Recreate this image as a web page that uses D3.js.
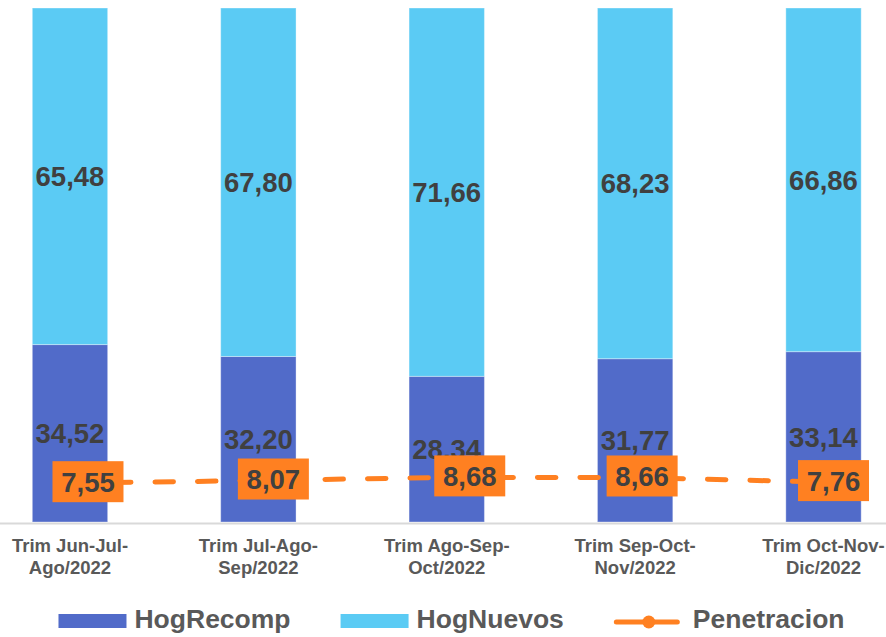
<!DOCTYPE html>
<html>
<head>
<meta charset="utf-8">
<script src="https://cdn.jsdelivr.net/npm/d3@7"></script>
<style>
  html, body { margin: 0; padding: 0; background: #fff; }
  svg { display: block; font-family: 'Liberation Sans', Arial, sans-serif; }
</style>
</head>
<body>
<svg class="chart"></svg>
<script>
const categories = [
  'Trim Jun-Jul-Ago/2022',
  'Trim Jul-Ago-Sep/2022',
  'Trim Ago-Sep-Oct/2022',
  'Trim Sep-Oct-Nov/2022',
  'Trim Oct-Nov-Dic/2022'
];
const hogRecomp = [34.52, 32.20, 28.34, 31.77, 33.14];
const hogNuevos = [65.48, 67.80, 71.66, 68.23, 66.86];
const penetracion = [7.55, 8.07, 8.68, 8.66, 7.76];
// labels of the line were nudged by hand in the original
const penLabelShift = [18, 15, 23, 7, 10];

const seriesNames = ['HogRecomp', 'HogNuevos', 'Penetracion'];

const width = 886;
const height = 637;
const colors = { HogRecomp: '#516BC9', HogNuevos: '#5BCBF4', Penetracion: '#FF8021' };
const fmt = v => d3.format('.2f')(v).replace('.', ',');

const svg = d3.select('.chart')
  .attr('width', width)
  .attr('height', height);

const rows = categories.map((c, i) => ({
  cat: c, HogRecomp: hogRecomp[i], HogNuevos: hogNuevos[i], pen: penetracion[i], shift: penLabelShift[i]
}));

const x = d3.scaleBand()
  .domain(categories)
  .range([-24.2, 917.7])
  .paddingInner(0.6)
  .paddingOuter(0.3);

const y = d3.scaleLinear().domain([0, 100]).range([522, 8]);
const y2 = d3.scaleLinear().domain([0, 100]).range([522, 8]);

const stack = d3.stack().keys(['HogRecomp', 'HogNuevos'])(rows);

const layers = svg.append('g')
  .selectAll('g')
  .data(stack)
  .enter()
  .append('g')
  .attr('fill', d => colors[d.key]);

layers.selectAll('rect')
  .data(d => d)
  .enter()
  .append('rect')
  .attr('x', d => x(d.data.cat))
  .attr('width', x.bandwidth())
  .attr('y', d => y(d[1]))
  .attr('height', d => y(d[0]) - y(d[1]))
  .attr('stroke', '#ffffff')
  .attr('stroke-opacity', 0.35)
  .attr('stroke-width', 1);

layers.selectAll('text')
  .data(d => d.map(p => ({ p, key: d.key })))
  .enter()
  .append('text')
  .attr('x', d => x(d.p.data.cat) + x.bandwidth() / 2)
  .attr('y', d => (y(d.p[0]) + y(d.p[1])) / 2)
  .attr('dy', '0.36em')
  .attr('text-anchor', 'middle')
  .attr('font-size', '27.5px')
  .attr('font-weight', 'bold')
  .attr('fill', '#404040')
  .text(d => fmt(d.p.data[d.key]));

// category axis
const xAxis = svg.append('g')
  .attr('transform', 'translate(0,522)')
  .call(d3.axisBottom(x).tickSize(0).tickFormat(''));

xAxis.select('.domain')
  .attr('stroke', '#D9D9D9')
  .attr('stroke-width', 2)
  .attr('transform', 'translate(0,1)');

xAxis.selectAll('.tick').each(function(d) {
  const cut = d.lastIndexOf('-') + 1;
  const t = d3.select(this).append('text')
    .attr('fill', '#595959')
    .attr('font-size', '18.5px')
    .attr('font-weight', 'bold')
    .attr('text-anchor', 'middle');
  t.append('tspan').attr('x', 0).attr('y', 30).text(d.slice(0, cut));
  t.append('tspan').attr('x', 0).attr('y', 51.5).text(d.slice(cut));
});

// penetration line
const line = d3.line()
  .x(d => x(d.cat) + x.bandwidth() / 2)
  .y(d => y2(d.pen));

svg.append('path')
  .datum(rows)
  .attr('d', line)
  .attr('fill', 'none')
  .attr('stroke', colors.Penetracion)
  .attr('stroke-width', 5)
  .attr('stroke-linecap', 'round')
  .attr('stroke-dasharray', '18.5 24');

const penLabels = svg.append('g')
  .selectAll('g')
  .data(rows)
  .enter()
  .append('g')
  .attr('transform', d => `translate(${x(d.cat) + x.bandwidth() / 2 + d.shift},${y2(d.pen) - 1.5})`);

penLabels.append('rect')
  .attr('x', -35.5)
  .attr('y', -20.5)
  .attr('width', 71)
  .attr('height', 41)
  .attr('fill', colors.Penetracion);

penLabels.append('text')
  .attr('text-anchor', 'middle')
  .attr('dy', '0.36em')
  .attr('font-size', '27.5px')
  .attr('font-weight', 'bold')
  .attr('fill', '#404040')
  .text(d => fmt(d.pen));

// legend
const legend = svg.append('g').attr('transform', 'translate(0,621)');
let cursor = 0;
const items = legend.selectAll('g')
  .data(seriesNames)
  .enter()
  .append('g');

items.each(function(name) {
  const g = d3.select(this);
  if (name === 'Penetracion') {
    g.append('line')
      .attr('x1', 2.5).attr('x2', 63.5)
      .attr('y1', 1).attr('y2', 1)
      .attr('stroke', colors.Penetracion)
      .attr('stroke-width', 5)
      .attr('stroke-linecap', 'round');
    g.append('circle')
      .attr('cx', 35).attr('cy', 1).attr('r', 6.5)
      .attr('fill', colors.Penetracion);
  } else {
    g.append('rect')
      .attr('x', 0).attr('y', -7)
      .attr('width', 68).attr('height', 14)
      .attr('fill', colors[name]);
  }
  const label = g.append('text')
    .attr('x', name === 'Penetracion' ? 79 : 76)
    .attr('y', 7.3)
    .attr('font-size', '26.5px')
    .attr('font-weight', 'bold')
    .attr('fill', '#595959')
    .text(name);
  const w = (name === 'Penetracion' ? 79 : 76) + label.node().getComputedTextLength();
  g.attr('transform', `translate(${cursor},0)`);
  cursor += w + 50;
});

const total = cursor - 50;
legend.attr('transform', `translate(${451.5 - total / 2},621)`);
</script>
</body>
</html>
